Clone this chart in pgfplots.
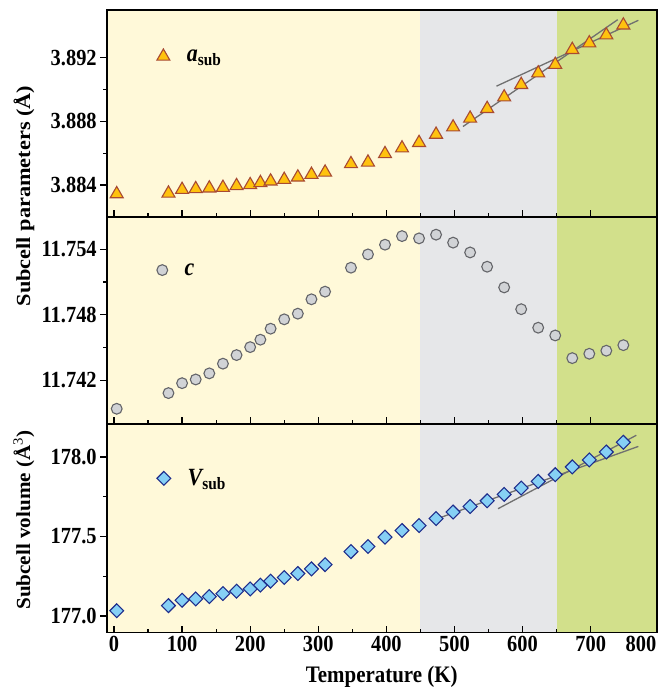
\documentclass[border=0pt]{standalone}
\usepackage{pgfplots}
\pgfplotsset{compat=1.18}
\usepackage{fontspec}
\setmainfont{Liberation Serif}
\newcommand{\vs}[1]{\scalebox{1}[1.13]{#1}}
\definecolor{bgY}{HTML}{FFF9D9}
\definecolor{bgG}{HTML}{E6E7E9}
\definecolor{bgL}{HTML}{D2E08B}
\definecolor{triF}{HTML}{FFC20E}
\definecolor{triE}{HTML}{A84A32}
\definecolor{cirF}{HTML}{D1D3D6}
\definecolor{cirE}{HTML}{646569}
\definecolor{diaF}{HTML}{86D0F5}
\definecolor{diaE}{HTML}{1E2D8C}
\definecolor{fitC}{HTML}{707070}
\pgfplotsset{
  panel/.style={
    width=550bp, scale only axis,
    xmin=-10.7, xmax=797,
    xtick={0,100,...,700}, minor x tick num=1,
    minor y tick num=1,
    xtick pos=bottom, ytick pos=left,
    xtick align=inside, ytick align=outside,
    major tick length=6.5bp, minor tick length=3.5bp,
    axis line style={line width=1.6bp},
    every tick/.style={black, line width=1.2bp},
    axis on top,
    ticklabel style={font=\fontsize{20.5}{24}\selectfont\bfseries},
    /pgf/number format/assume math mode=true,
    yticklabel={\vs{\pgfmathprintnumber{\tick}}},
    legend style={draw=none, fill=none, inner xsep=0pt, inner ysep=0pt, outer sep=0pt,
      font=\fontsize{22}{26}\selectfont\bfseries, anchor=west},
    legend cell align=left,
  },
  tri/.style={only marks, mark=triangle*, mark size=7.5bp, mark options={fill=triF, draw=triE, line width=1.1bp}},
  cir/.style={only marks, mark=*, mark size=5.4bp, mark options={fill=cirF, draw=cirE, line width=1.1bp}},
  dia/.style={only marks, mark=square*, mark size=4.9bp, mark options={rotate=45, fill=diaF, draw=diaE, line width=1.1bp}},
  fit/.style={fitC, line width=1.3bp, no marks, forget plot},
}
\begin{document}
\begin{tikzpicture}
% ---------- top panel: a_sub ----------
\begin{axis}[panel, at={(106.7bp,-10bp)}, anchor=north west, height=206.7bp,
  ymin=3.882, ymax=3.895, ytick={3.884,3.888,3.892}, xticklabels={},
  yticklabel style={/pgf/number format/.cd, fixed, fixed zerofill, precision=3},
  legend style={at={(axis cs:63,3.89208)}}]
\fill[bgY] (axis cs:-10.7,3.882) rectangle (axis cs:450,3.895);
\fill[bgG] (axis cs:450,3.882) rectangle (axis cs:651,3.895);
\fill[bgL] (axis cs:651,3.882) rectangle (axis cs:797,3.895);
\addplot[tri] coordinates {
(4,3.88343) (80,3.88347) (100,3.88370) (120,3.88375) (140,3.88379) (160,3.88383)
(180,3.88394) (200,3.88400) (215,3.88413) (230,3.88423) (250,3.88433) (270,3.88448)
(290,3.88465) (310,3.88479) (348,3.88532) (373,3.88542) (398,3.88595) (423,3.88631)
(448,3.88665) (473,3.88717) (498,3.88763) (523,3.88818) (548,3.88879) (573,3.88952)
(598,3.89030) (623,3.89103) (648,3.89156) (673,3.89250) (698,3.89292) (723,3.89342)
(748,3.89404)};
\addlegendentry{\hspace{15bp}\vs{{\itshape a}\textsubscript{sub}}}
\addplot[fit] coordinates {(512.5,3.88767) (739.7,3.89439)};
\addplot[fit] coordinates {(561.7,3.89021) (770,3.89435)};
\end{axis}
% ---------- middle panel: c ----------
\begin{axis}[panel, at={(106.7bp,-216.7bp)}, anchor=north west, height=207bp,
  ymin=11.738, ymax=11.757, ytick={11.742,11.748,11.754}, xticklabels={},
  yticklabel style={/pgf/number format/.cd, fixed, fixed zerofill, precision=3},
  legend style={at={(axis cs:63,11.7521)}}]
\fill[bgY] (axis cs:-10.7,11.738) rectangle (axis cs:450,11.757);
\fill[bgG] (axis cs:450,11.738) rectangle (axis cs:651,11.757);
\fill[bgL] (axis cs:651,11.738) rectangle (axis cs:797,11.757);
\addplot[cir] coordinates {
(4,11.73937) (80,11.74081) (100,11.74172) (120,11.74206) (140,11.74262) (160,11.74351)
(180,11.74430) (200,11.74503) (215,11.74571) (230,11.74672) (250,11.74758) (270,11.74810)
(290,11.74942) (310,11.75012) (348,11.75232) (373,11.75354) (398,11.75443) (423,11.75522)
(448,11.75501) (473,11.75535) (498,11.75462) (523,11.75372) (548,11.75241) (573,11.75051)
(598,11.74851) (623,11.74681) (648,11.74610) (673,11.74402) (698,11.74442) (723,11.74470)
(748,11.74521)};
\addlegendentry{\hspace{15bp}\vs{\itshape c}}
\end{axis}
% ---------- bottom panel: V_sub ----------
\begin{axis}[panel, at={(106.7bp,-423.7bp)}, anchor=north west, height=208.6bp,
  ymin=176.897, ymax=178.21, ytick={177.0,177.5,178.0},
  xticklabel={\vs{\pgfmathprintnumber{\tick}}},
  extra x ticks={774}, extra x tick labels={\vs{800}},
  extra x tick style={major tick length=0pt},
  yticklabel style={/pgf/number format/.cd, fixed, fixed zerofill, precision=1},
  legend style={at={(axis cs:63,177.866)}}]
\fill[bgY] (axis cs:-10.7,176.897) rectangle (axis cs:450,178.21);
\fill[bgG] (axis cs:450,176.897) rectangle (axis cs:651,178.21);
\fill[bgL] (axis cs:651,176.897) rectangle (axis cs:797,178.21);
\addplot[dia] coordinates {
(4,177.033) (80,177.065) (100,177.099) (120,177.107) (140,177.122) (160,177.141)
(180,177.156) (200,177.170) (215,177.194) (230,177.219) (250,177.242) (270,177.267)
(290,177.296) (310,177.323) (348,177.405) (373,177.437) (398,177.496) (423,177.538)
(448,177.569) (473,177.613) (498,177.654) (523,177.689) (548,177.725) (573,177.765)
(598,177.805) (623,177.847) (648,177.889) (673,177.938) (698,177.982) (723,178.032)
(748,178.093)};
\addlegendentry{\hspace{15bp}\vs{{\itshape V}\textsubscript{sub}}}
\addplot[fit] coordinates {(467.5,177.601) (770,178.067)};
\addplot[fit] coordinates {(564,177.675) (767,178.137)};
\end{axis}
\node[rotate=90, font=\fontsize{20}{24}\selectfont\bfseries] at (24bp,-196bp) {\scalebox{1.12}[1]{Subcell parameters (Å)}};
\node[rotate=90, font=\fontsize{20}{24}\selectfont\bfseries] at (24bp,-520bp) {\scalebox{1.06}[1]{Subcell volume (Å\textsuperscript{\mdseries 3})}};
\node[font=\fontsize{21}{25}\selectfont\bfseries] at (381.7bp,-677bp) {\vs{Temperature (K)}};
\pgfresetboundingbox
\path (0bp,0bp) rectangle (660bp,-687bp);
\end{tikzpicture}
\end{document}
